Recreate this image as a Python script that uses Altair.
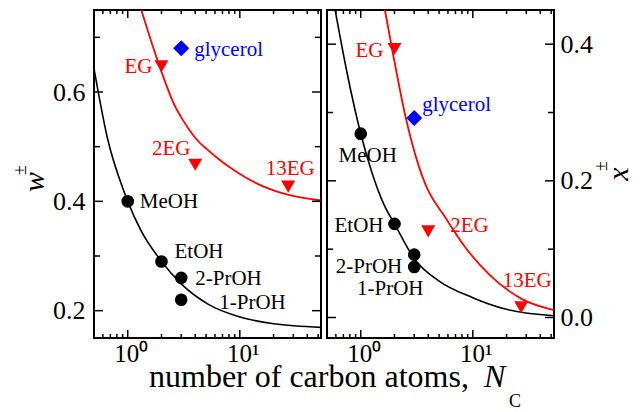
import altair as alt
import pandas as pd

# ---- measured data -------------------------------------------------------
# monohydric alcohols
alc_names = ["MeOH", "EtOH", "2-PrOH", "1-PrOH"]
alc_nc = [1, 2, 3, 3]
alc_w = [0.40, 0.29, 0.26, 0.22]
alc_x = [0.269, 0.137, 0.092, 0.074]

# ethylene glycols
eg_names = ["EG", "2EG", "13EG"]
eg_nc = [2, 4, 27]
eg_w = [0.647, 0.467, 0.427]
eg_x = [0.393, 0.126, 0.015]

# glycerol
gly_names = ["glycerol"]
gly_nc = [3]
gly_w = [0.68]
gly_x = [0.292]

# ---- fitted curves (sampled) --------------------------------------------
fit_w_alc_nc = [0.5, 0.66, 0.93, 1.0, 1.31, 1.97, 3.0, 5.15, 10.2, 20.2, 53]
fit_w_alc = [0.643, 0.515, 0.417, 0.40, 0.347, 0.292, 0.249, 0.2125, 0.188, 0.176, 0.1695]
fit_w_eg_nc = [1.32, 1.6, 2.0, 2.6, 3.1, 3.65, 4.3, 5.14, 6.5, 8.3, 11.0, 14.4, 20.0, 28.5, 53]
fit_w_eg = [0.75, 0.696, 0.637, 0.577, 0.549, 0.527, 0.509, 0.4945, 0.477, 0.461, 0.445,
            0.432, 0.420, 0.411, 0.4015]

fit_x_alc_nc = [0.593, 0.754, 1.0, 1.26, 1.605, 2.01, 3.0, 4.97, 9.86, 19.5, 53]
fit_x_alc = [0.4487, 0.3585, 0.269, 0.212, 0.166, 0.1366, 0.086, 0.0537, 0.0293, 0.0123, 0.0025]
fit_x_eg_nc = [1.638, 1.931, 2.50, 3.29, 3.77, 5.69, 8.59, 13.9, 27.5, 53]
fit_x_eg = [0.4512, 0.3877, 0.2951, 0.2219, 0.1952, 0.1463, 0.1024, 0.0635, 0.0269, 0.0108]

# ---- axis ticks -----------------------------------------------------------
nc_major = [1, 10]
nc_minor = [0.6, 0.7, 0.8, 0.9, 2, 3, 4, 5, 6, 7, 8, 9, 20, 30, 40, 50]
w_major = [0.2, 0.4, 0.6]
w_minor = [0.3, 0.5, 0.7]
x_major = [0.0, 0.2, 0.4]
x_minor = [0.1, 0.3]

NC_DOMAIN = [0.5, 53]
W_DOMAIN = [0.15, 0.75]
X_DOMAIN = [-0.03, 0.45]

W, H = 227, 328
FONT = "Liberation Serif"
RED, BLUE, BLACK = "#ff0000", "#0000ff", "#000000"

# label placement: name -> (align, dx, dy)
labels_w = {
    "MeOH": ("left", 12, 1), "EtOH": ("left", 13, -9),
    "2-PrOH": ("left", 14, 1), "1-PrOH": ("left", 38, 3),
    "EG": ("right", -9, 1), "2EG": ("center", -24, -16),
    "13EG": ("center", 2, -18), "glycerol": ("left", 13, 2),
}
labels_x = {
    "MeOH": ("center", 7, 22), "EtOH": ("right", -11, 2),
    "2-PrOH": ("right", -12, 12), "1-PrOH": ("center", -24, 22),
    "EG": ("right", -11, 2), "2EG": ("left", 22, -5),
    "13EG": ("center", 6, -26), "glycerol": ("left", 8, -13),
}


def frame(df_cols):
    return pd.DataFrame(df_cols)


def panel(alc_v, eg_v, gly_v, fit_alc, fit_eg, ydomain, ymaj, ymin, orient, label_pos, extra):
    xenc = alt.X(
        "nc:Q",
        scale=alt.Scale(type="log", domain=NC_DOMAIN, nice=False),
        axis=alt.Axis(values=nc_major, labelExpr="datum.value == 1 ? '10⁰' : '10¹'",
                      ticks=False, domain=False, grid=False, title=None,
                      labelFont=FONT, labelFontSize=25, labelPadding=3, labelOffset=3,
                      labelColor=BLACK),
    )
    yenc = alt.Y(
        "v:Q",
        scale=alt.Scale(domain=ydomain, nice=False, zero=False),
        axis=alt.Axis(values=ymaj, format=".1f", orient=orient, ticks=False, domain=False,
                      grid=False, title=None, labelFont=FONT, labelFontSize=26,
                      labelPadding=9 if orient == "left" else 6, labelColor=BLACK),
    )

    alc = frame({"nc": alc_nc, "v": alc_v, "name": alc_names})
    eg = frame({"nc": eg_nc, "v": eg_v, "name": eg_names})
    gly = frame({"nc": gly_nc, "v": gly_v, "name": gly_names})

    layers = []
    # fitted curves
    layers.append(alt.Chart(frame({"nc": fit_alc[0], "v": fit_alc[1]}))
                  .mark_line(color=BLACK, strokeWidth=1.6, interpolate="monotone", clip=True)
                  .encode(x=xenc, y=yenc))
    layers.append(alt.Chart(frame({"nc": fit_eg[0], "v": fit_eg[1]}))
                  .mark_line(color=RED, strokeWidth=1.8, interpolate="monotone", clip=True)
                  .encode(x=xenc, y=yenc))

    # inward ticks on all four sides
    for vals, length in ((nc_major, 8), (nc_minor, 4)):
        d = frame({"nc": vals})
        layers.append(alt.Chart(d).mark_rule(color=BLACK, strokeWidth=1.5)
                      .encode(x=xenc, y=alt.value(H), y2=alt.value(H - length)))
        layers.append(alt.Chart(d).mark_rule(color=BLACK, strokeWidth=1.5)
                      .encode(x=xenc, y=alt.value(0), y2=alt.value(length)))
    for vals, length in ((ymaj, 9), (ymin, 6)):
        d = frame({"v": vals})
        layers.append(alt.Chart(d).mark_rule(color=BLACK, strokeWidth=1.5)
                      .encode(y=yenc, x=alt.value(0), x2=alt.value(length)))
        layers.append(alt.Chart(d).mark_rule(color=BLACK, strokeWidth=1.5)
                      .encode(y=yenc, x=alt.value(W), x2=alt.value(W - length)))

    # data points
    layers.append(alt.Chart(alc).mark_point(shape="circle", filled=True, size=160,
                                            color=BLACK, opacity=1)
                  .encode(x=xenc, y=yenc))
    layers.append(alt.Chart(eg).mark_point(shape="triangle-down", filled=True, size=196,
                                           color=RED, opacity=1)
                  .encode(x=xenc, y=yenc))
    layers.append(alt.Chart(gly).mark_point(shape="diamond", filled=True, size=260,
                                            color=BLUE, opacity=1)
                  .encode(x=xenc, y=yenc))

    # point labels
    for df, color in ((alc, BLACK), (eg, RED), (gly, BLUE)):
        for name in df["name"]:
            align, dx, dy = label_pos[name]
            layers.append(
                alt.Chart(df[df["name"] == name])
                .mark_text(font=FONT, fontSize=21, color=color, align=align,
                           baseline="middle", dx=dx, dy=dy)
                .encode(x=xenc, y=yenc, text="name:N")
            )

    # axis titles drawn as text
    one = frame({"k": [0]})
    for txt, px, py, size, style, angle, align, base in extra:
        layers.append(
            alt.Chart(one)
            .mark_text(text=txt, font=FONT, fontSize=size, fontStyle=style, angle=angle,
                       align=align, baseline=base, color=BLACK)
            .encode(x=alt.value(px), y=alt.value(py))
        )

    return alt.layer(*layers).properties(width=W, height=H)


left_titles = [
    ("w", -50, 172, 30, "italic", 270, "center", "alphabetic"),
    ("±", -68, 160, 18, "normal", 270, "center", "alphabetic"),
    ("number of carbon atoms,", 55, 377, 32, "normal", 0, "left", "alphabetic"),
    ("N", 390, 377, 32, "italic", 0, "left", "alphabetic"),
    ("C", 415, 397, 18, "normal", 0, "left", "alphabetic"),
]
right_titles = [
    ("x", 301, 164, 30, "italic", 270, "center", "alphabetic"),
    ("±", 280, 156, 18, "normal", 270, "center", "alphabetic"),
]

left = panel(alc_w, eg_w, gly_w, (fit_w_alc_nc, fit_w_alc), (fit_w_eg_nc, fit_w_eg),
             W_DOMAIN, w_major, w_minor, "left", labels_w, left_titles)
right = panel(alc_x, eg_x, gly_x, (fit_x_alc_nc, fit_x_alc), (fit_x_eg_nc, fit_x_eg),
              X_DOMAIN, x_major, x_minor, "right", labels_x, right_titles)

chart = (
    alt.hconcat(left, right, spacing=6, bounds="flush")
    .properties(padding={"left": 11, "top": 8, "right": 0, "bottom": 0}, background="white")
    .configure_view(stroke=BLACK, strokeWidth=2)
)

chart.save("out.html", embed_options={"renderer": "svg", "actions": False})
